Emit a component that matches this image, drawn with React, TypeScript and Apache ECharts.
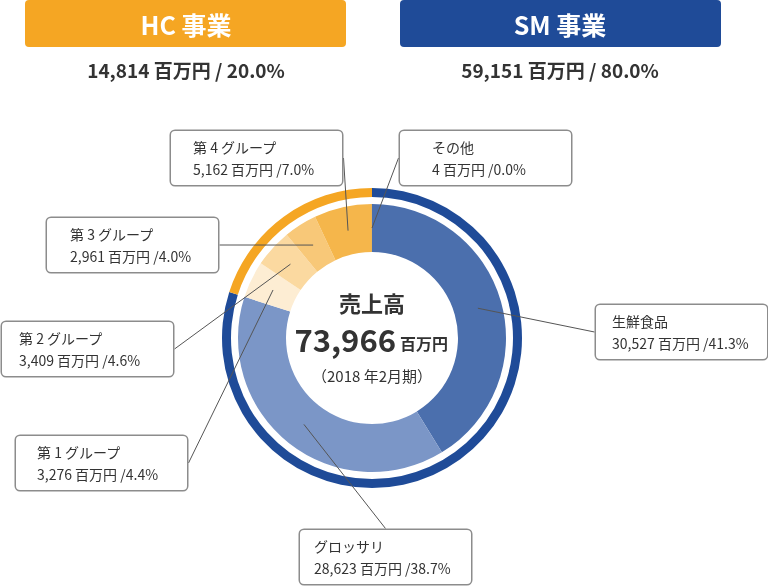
import { useEffect, useRef } from 'react';
import * as echarts from 'echarts';

// 事業別（外側リング）
const businessNames = ['SM 事業', 'HC 事業'];
const businessValues = [59151, 14814];
const businessColors = ['#1f4b98', '#f5a623'];

// 部門別（内側ドーナツ）
const segmentNames = ['生鮮食品', 'グロッサリ', '第 1 グループ', '第 2 グループ', '第 3 グループ', '第 4 グループ', 'その他'];
const segmentValues = [30527, 28623, 3276, 3409, 2961, 5162, 4];
const segmentColors = ['#4b6fad', '#7b96c7', '#fdedd3', '#fbd9a0', '#f8c878', '#f5b64b', '#4b6fad'];

const totalText = '73,966';
const unitText = '百万円';
const periodText = '（2018 年2月期）';

// ラベル枠の左上位置と左余白
const labelBoxes = [
  [596, 305, 16],
  [300, 530, 14],
  [16, 436, 21],
  [2, 322, 17],
  [47, 218, 23],
  [171, 131, 22],
  [400, 131, 32],
];

const FONT = '"Noto Sans CJK JP", "Noto Sans", sans-serif';
const CX = 372;
const CY = 338;

const fmt = (v: number) => v.toLocaleString('en-US');

export default function App() {
  const el = useRef<HTMLDivElement>(null);

  useEffect(() => {
    document.body.style.margin = '0';
    if (!el.current) return;
    const chart = echarts.init(el.current, undefined, { renderer: 'svg' });

    const bizTotal = businessValues.reduce((a, b) => a + b, 0);
    const headerX = [560, 186];
    const headerBoxX = [400, 25];

    const headers: any[] = [];
    businessNames.forEach((name, i) => {
      headers.push({
        type: 'rect',
        shape: { x: headerBoxX[i], y: 0, width: 321, height: 47, r: 4 },
        style: { fill: businessColors[i] },
      });
      headers.push({
        type: 'text',
        x: headerX[i],
        y: 24,
        style: {
          text: name,
          fill: '#fff',
          font: `bold 25px ${FONT}`,
          align: 'center',
          verticalAlign: 'middle',
        },
      });
      headers.push({
        type: 'text',
        x: headerX[i],
        y: 69,
        style: {
          text: `${fmt(businessValues[i])} 百万円 / ${((businessValues[i] / bizTotal) * 100).toFixed(1)}%`,
          fill: '#333',
          font: `bold 19px ${FONT}`,
          align: 'center',
          verticalAlign: 'middle',
        },
      });
    });

    chart.setOption({
      animation: false,
      textStyle: { fontFamily: FONT },
      graphic: [
        ...headers,
        {
          type: 'text',
          x: CX,
          y: 302,
          z: 10,
          style: { text: '売上高', fill: '#333', font: `bold 22px ${FONT}`, align: 'center', verticalAlign: 'middle' },
        },
        {
          type: 'text',
          x: 396,
          y: 338,
          z: 10,
          style: { text: totalText, fill: '#333', font: `bold 31px ${FONT}`, align: 'right', verticalAlign: 'middle' },
        },
        {
          type: 'text',
          x: 400,
          y: 343,
          z: 10,
          style: { text: unitText, fill: '#333', font: `bold 16px ${FONT}`, align: 'left', verticalAlign: 'middle' },
        },
        {
          type: 'text',
          x: CX,
          y: 375,
          z: 10,
          style: { text: periodText, fill: '#333', font: `400 15px ${FONT}`, align: 'center', verticalAlign: 'middle' },
        },
      ],
      series: [
        {
          type: 'pie',
          center: [CX, CY],
          radius: [141, 150],
          startAngle: 90,
          clockwise: true,
          silent: true,
          label: { show: false },
          labelLine: { show: false },
          data: businessNames.map((name, i) => ({
            name,
            value: businessValues[i],
            itemStyle: { color: businessColors[i] },
          })),
        },
        {
          type: 'pie',
          center: [CX, CY],
          radius: [86, 134],
          startAngle: 90,
          clockwise: true,
          silent: true,
          label: { show: false },
          labelLine: { show: false },
          data: segmentNames.map((name, i) => ({
            name,
            value: segmentValues[i],
            itemStyle: { color: segmentColors[i] },
          })),
        },
        {
          type: 'pie',
          z: 5,
          center: [CX, CY],
          radius: [0, 110],
          startAngle: 90,
          clockwise: true,
          silent: true,
          avoidLabelOverlap: false,
          percentPrecision: 1,
          itemStyle: { color: 'rgba(0,0,0,0)' },
          label: {
            show: true,
            color: '#333',
            fontSize: 14,
            lineHeight: 22,
            fontFamily: FONT,
            backgroundColor: '#fff',
            borderColor: '#8c8c8c',
            borderWidth: 1.5,
            borderRadius: 4,
            formatter: (p: any) => `${p.name}\n${fmt(p.value)} 百万円 /${p.percent.toFixed(1)}%`,
          },
          labelLine: {
            show: true,
            length: 10,
            length2: 0,
            lineStyle: { color: '#555', width: 1 },
          },
          labelLayout: (p: any) => {
            const b = labelBoxes[p.dataIndex];
            return { x: b[0], y: b[1], align: 'left', verticalAlign: 'top' };
          },
          data: segmentNames.map((name, i) => {
            const pl = labelBoxes[i][2];
            return {
              name,
              value: segmentValues[i],
              label: { padding: [5, 6, 5, pl], width: 171 - pl - 6, height: 44 },
            };
          }),
        },
      ],
    });

    return () => {
      chart.dispose();
    };
  }, []);

  return <div ref={el} style={{ position: 'fixed', left: 0, top: 0, width: 768, height: 586 }} />;
}
